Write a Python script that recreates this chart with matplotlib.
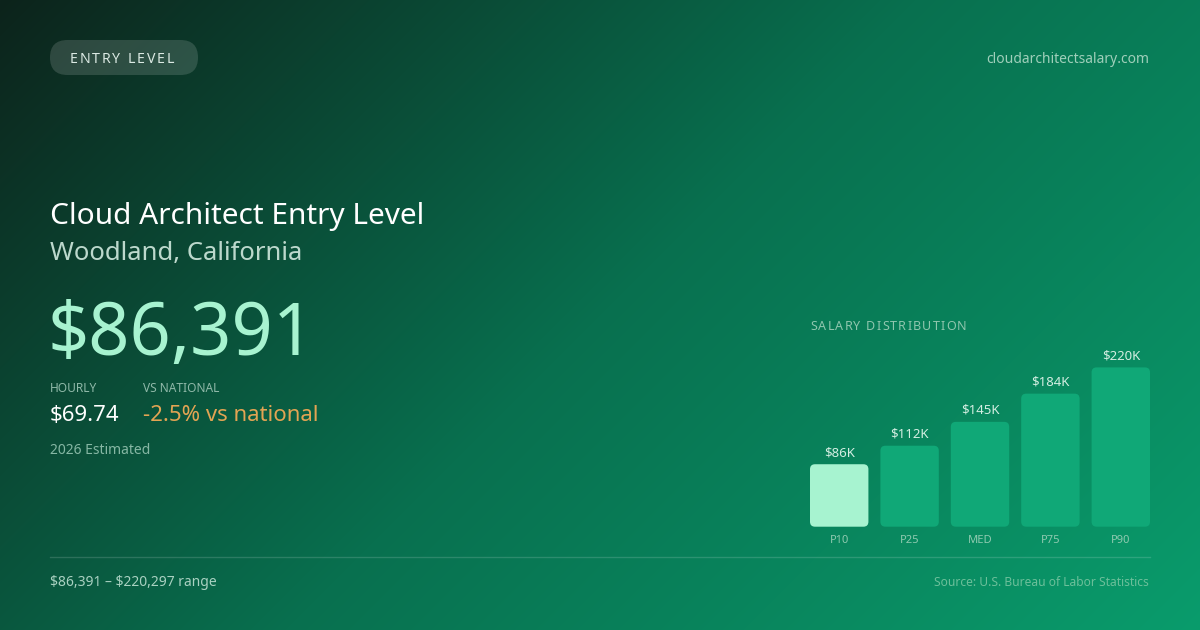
import numpy as np
import matplotlib
matplotlib.use("Agg")
import matplotlib.pyplot as plt
from matplotlib.patches import FancyBboxPatch
from matplotlib.colors import to_rgb

plt.rcParams['font.family'] = ['Noto Sans', 'DejaVu Sans']
plt.rcParams['text.parse_math'] = False

# data
percentiles = ["P10", "P25", "MED", "P75", "P90"]
salaries_k = [86.391, 112, 145, 184, 220.297]
value_labels = ["$86K", "$112K", "$145K", "$184K", "$220K"]

badge = "ENTRY LEVEL"
site = "cloudarchitectsalary.com"
title = "Cloud Architect Entry Level"
location = "Woodland, California"
salary_text = "$86,391"
hourly_text = "$69.74"
vs_national_text = "-2.5% vs national"
estimate_note = "2026 Estimated"
range_text = "$86,391 \u2013 $220,297 range"
source_text = "Source: U.S. Bureau of Labor Statistics"

W, H = 1200, 630
fig = plt.figure(figsize=(12, 6.3), dpi=100)

# background gradient, 135deg
bg = fig.add_axes([0, 0, 1, 1])
bg.set_xlim(0, W)
bg.set_ylim(H, 0)
bg.axis("off")
xx, yy = np.meshgrid(np.arange(W), np.arange(H))
t = (xx + yy) / (W + H)
stops = [0.0, 0.5, 1.0]
cols = [to_rgb("#0d231b"), to_rgb("#08704f"), to_rgb("#0a9c6c")]
img = np.zeros((H, W, 3))
for c in range(3):
    img[..., c] = np.interp(t, stops, [col[c] for col in cols])
bg.imshow(img, extent=[0, W, H, 0], aspect="auto", zorder=0)

renderer = fig.canvas.get_renderer()


def spaced_text(ax, x, y, s, spacing, **kw):
    # draw text letter by letter with extra spacing (pixels)
    cur = x
    for ch in s:
        t = ax.text(cur, y, ch, **kw)
        w = t.get_window_extent(renderer).width
        if ch == " ":
            w = kw.get("fontsize", 10) * 0.26 * 100 / 72
        cur += w + spacing
    return cur


# badge
pill = FancyBboxPatch((50, 40), 148, 35, boxstyle="round,pad=0,rounding_size=17.5",
                      facecolor="white", alpha=0.14, edgecolor="none", zorder=1)
bg.add_patch(pill)
spaced_text(bg, 70, 63.3, badge, 1.8, fontsize=10.2, color="#dbe9e3",
            va="baseline", ha="left", zorder=2)

bg.text(1149, 63, site, fontsize=10, color="#9fcfba", ha="right", va="baseline")

bg.text(50, 224, title, fontsize=21.5, color="white", ha="left", va="baseline")
bg.text(50, 260, location, fontsize=18.5, color="#bcd8cc", ha="left", va="baseline")
bg.text(48, 355, salary_text, fontsize=52, color="#a7f3d0", ha="left", va="baseline")

bg.text(50, 392, "HOURLY", fontsize=8.6, color="#8fb8a8", ha="left", va="baseline")
bg.text(143, 392, "VS NATIONAL", fontsize=8.6, color="#8fb8a8", ha="left", va="baseline")
bg.text(50, 421, hourly_text, fontsize=16, color="white", ha="left", va="baseline")
bg.text(143, 421, vs_national_text, fontsize=16, color="#e3a453", ha="left", va="baseline")
bg.text(50, 454, estimate_note, fontsize=10, color="#86b7a4", ha="left", va="baseline")

bg.plot([50, 1150], [556.5, 556.5], color="white", alpha=0.15, lw=1)
bg.text(50, 586, range_text, fontsize=10, color="#a9d1c1", ha="left", va="baseline")
bg.text(1149, 586, source_text, fontsize=8.65, color="#6cbf9a", ha="right", va="baseline")

spaced_text(bg, 810, 330, "SALARY DISTRIBUTION", 1.2, fontsize=9, color="#8fc6ae",
            va="baseline", ha="left")

# bar chart
base_y = 526.7
ax_h = 180
ax = fig.add_axes([810 / W, (H - base_y) / H, 340 / W, ax_h / H])
ax.patch.set_alpha(0)
ax.axis("off")
x = np.arange(len(salaries_k))
bar_w = 58.5 / 70.5
ax.set_xlim(-bar_w / 2, len(x) - 1 + bar_w / 2)
ax.set_ylim(0, max(salaries_k) * ax_h / 159.3)

bars = ax.bar(x, salaries_k, width=bar_w, alpha=0)
fig.canvas.draw()
x_per_px = (ax.get_xlim()[1] - ax.get_xlim()[0]) / 340
y_per_px = (ax.get_ylim()[1] - ax.get_ylim()[0]) / ax_h
radius_px = 5
for i, r in enumerate(bars):
    fc = "#a7f3d0" if i == 0 else "#10a877"
    p = FancyBboxPatch((r.get_x(), r.get_y()), r.get_width(), r.get_height(),
                       boxstyle=f"round,pad=0,rounding_size={radius_px * x_per_px}",
                       mutation_aspect=y_per_px / x_per_px,
                       facecolor=fc, edgecolor="none")
    ax.add_patch(p)
    ax.annotate(value_labels[i], (r.get_x() + r.get_width() / 2, r.get_height()),
                xytext=(0, 8 * 0.72), textcoords="offset points",
                ha="center", va="baseline", fontsize=9.5, color="#d3eee2")
    ax.annotate(percentiles[i], (r.get_x() + r.get_width() / 2, 0),
                xytext=(0, -16.6 * 0.72), textcoords="offset points",
                ha="center", va="baseline", fontsize=8, color="#8fcab0",
                annotation_clip=False)

fig.savefig("out.png", dpi=100)
